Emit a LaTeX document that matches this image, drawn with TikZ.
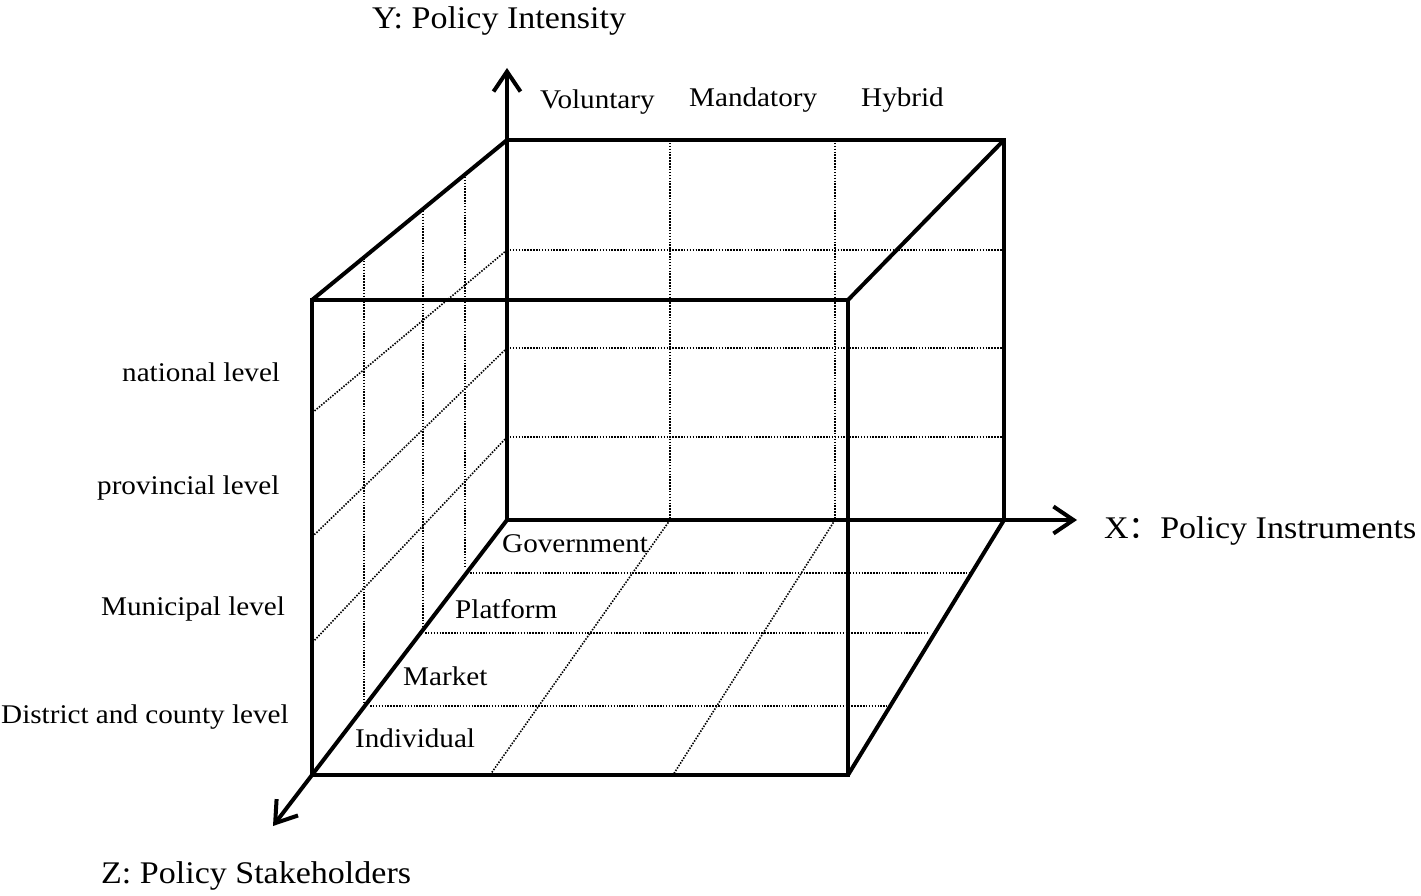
\documentclass[tikz,border=0pt]{standalone}
\usepackage{fontspec}
\setmainfont{Liberation Serif}[FakeStretch=1.08]
\newfontfamily\cjk{Noto Sans CJK SC}
\usetikzlibrary{arrows.meta}
\tikzset{
  edge/.style={line width=4pt, line cap=butt, line join=miter},
  grid/.style={line width=1.6pt, dash pattern=on 1.5pt off 1.4pt},
  axis/.style={line width=4pt, -{Straight Barb[length=20pt,width=27pt,line width=4pt]}},
  lab/.style={inner sep=0pt, anchor=base west, font=\fontsize{27}{30}\selectfont},
  ttl/.style={inner sep=0pt, anchor=base west, font=\fontsize{31.5}{35}\selectfont},
}
\begin{document}
\begin{tikzpicture}[x=1pt,y=-1pt]
\useasboundingbox (0,0) rectangle (1421,896);
% corners
\coordinate (O) at (507,520);
\coordinate (B1) at (507,140);
\coordinate (B2) at (1004,140);
\coordinate (B3) at (1004,520);
\coordinate (F1) at (312,300);
\coordinate (F2) at (848,300);
\coordinate (F3) at (848,775);
\coordinate (F4) at (312,775);
\coordinate (YT) at (507,68);
\coordinate (XT) at (1077,520);
\coordinate (ZT) at (273,826);
% dotted grid: back face
\draw[grid] (670,140) -- (670,520);
\draw[grid] (835,140) -- (835,520);
\draw[grid] (507,250) -- (1004,250);
\draw[grid] (507,348) -- (1004,348);
\draw[grid] (507,437) -- (1004,437);
% left face
\draw[grid] (507,250) -- (312,413);
\draw[grid] (507,348) -- (312,537);
\draw[grid] (507,437) -- (312,643);
\draw[grid] (465,174) -- (465,567);
\draw[grid] (423,211) -- (423,628);
\draw[grid] (364,258) -- (364,702);
% bottom face
\draw[grid] (470,573) -- (970,573);
\draw[grid] (425,633) -- (928,633);
\draw[grid] (370,706) -- (887,706);
\draw[grid] (670,520) -- (490,775);
\draw[grid] (835,520) -- (673,775);
% cube edges
\draw[edge] (B1) -- (B2) -- (B3);
\draw[edge] (F1) -- (F2) -- (F3) -- (F4) -- cycle;
\draw[edge] (F1) -- (B1);
\draw[edge] (F2) -- (B2);
\draw[edge] (F3) -- (B3);
% axes
\draw[axis] (O) -- (YT);
\draw[axis] (O) -- (XT);
\draw[axis] (O) -- (ZT);
% titles
\node[ttl] (ty) at (372,29) {Y: Policy Intensity};
\node[ttl] (tx) at (1104,538) {X{\cjk ：}Policy Instruments};
\node[ttl] (tz) at (101,883) {Z: Policy Stakeholders};
% instrument labels
\node[lab] (vol) at (540,109) {Voluntary};
\node[lab] (man) at (689,107) {Mandatory};
\node[lab] (hyb) at (861,107) {Hybrid};
% level labels
\node[lab] (nat) at (122,381) {national level};
\node[lab] (pro) at (97,494) {provincial level};
\node[lab] (mun) at (101,615) {Municipal level};
\node[lab] (dis) at (1,723) {District and county level};
% stakeholder labels
\node[lab] (gov) at (502,552) {Government};
\node[lab] (pla) at (455,618) {Platform};
\node[lab] (mar) at (403,685) {Market};
\node[lab] (ind) at (355,747) {Individual};
\end{tikzpicture}
\end{document}
